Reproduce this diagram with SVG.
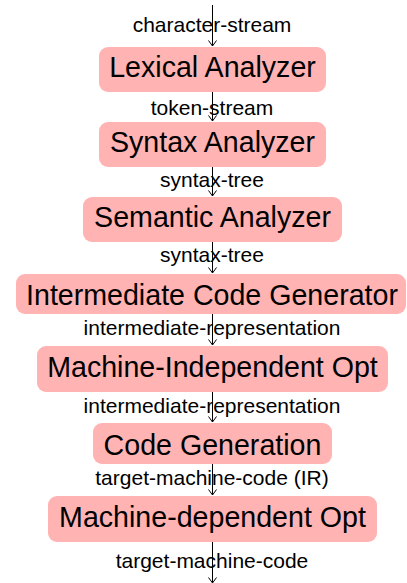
<svg xmlns="http://www.w3.org/2000/svg" width="407" height="583" viewBox="0 0 407 583">
<defs>
<marker id="arr" markerWidth="10" markerHeight="10" refX="8" refY="5" orient="auto" markerUnits="userSpaceOnUse">
<path d="M2.5,1 L8,5 L2.5,9" fill="none" stroke="#000" stroke-width="1"/>
</marker>
<style>
.box{fill:#ffb3b3;stroke:none}
.nt{font-family:"Liberation Sans",Arial,sans-serif;font-size:28.6px;fill:#000;text-anchor:middle}
.lb{font-family:"Liberation Sans",Arial,sans-serif;font-size:21px;fill:#000;text-anchor:middle}
.edge{stroke:#000;stroke-width:1;fill:none}
</style>
</defs>
<rect width="407" height="583" fill="#fff"/>
<g id="labels">
<text class="lb" x="212" y="32">character-stream</text>
<text class="lb" x="212" y="115">token-stream</text>
<text class="lb" x="212" y="187">syntax-tree</text>
<text class="lb" x="212" y="262">syntax-tree</text>
<text class="lb" x="212" y="335">intermediate-representation</text>
<text class="lb" x="212" y="413">intermediate-representation</text>
<text class="lb" x="212" y="485">target-machine-code (IR)</text>
<text class="lb" x="212" y="568">target-machine-code</text>
</g>
<g id="n1"><rect class="box" x="99" y="47" width="227" height="45" rx="9"/><text class="nt" x="212.5" y="77">Lexical Analyzer</text></g>
<g id="n2"><rect class="box" x="99" y="122" width="227" height="45" rx="9"/><text class="nt" x="212.5" y="152">Syntax Analyzer</text></g>
<g id="n3"><rect class="box" x="83" y="197" width="259" height="45" rx="9"/><text class="nt" x="212.5" y="227">Semantic Analyzer</text></g>
<g id="n4"><rect class="box" x="16" y="274" width="390" height="40" rx="9"/><text class="nt" x="212" y="305">Intermediate Code Generator</text></g>
<g id="n5"><rect class="box" x="37" y="346" width="351" height="46" rx="9"/><text class="nt" x="212.5" y="377">Machine-Independent Opt</text></g>
<g id="n6"><rect class="box" x="93" y="423" width="239" height="41" rx="9"/><text class="nt" x="212.5" y="455">Code Generation</text></g>
<g id="n7"><rect class="box" x="48" y="496" width="329" height="46" rx="9"/><text class="nt" x="212.5" y="527">Machine-dependent Opt</text></g>
<g id="edges">
<line class="edge" x1="212.5" y1="5" x2="212.5" y2="46" marker-end="url(#arr)"/>
<line class="edge" x1="212.5" y1="92" x2="212.5" y2="121" marker-end="url(#arr)"/>
<line class="edge" x1="212.5" y1="167" x2="212.5" y2="196" marker-end="url(#arr)"/>
<line class="edge" x1="212.5" y1="242" x2="212.5" y2="273" marker-end="url(#arr)"/>
<line class="edge" x1="212.5" y1="314" x2="212.5" y2="345" marker-end="url(#arr)"/>
<line class="edge" x1="212.5" y1="392" x2="212.5" y2="422" marker-end="url(#arr)"/>
<line class="edge" x1="212.5" y1="464" x2="212.5" y2="495" marker-end="url(#arr)"/>
<line class="edge" x1="212.5" y1="542" x2="212.5" y2="583" marker-end="url(#arr)"/>
</g>
</svg>
